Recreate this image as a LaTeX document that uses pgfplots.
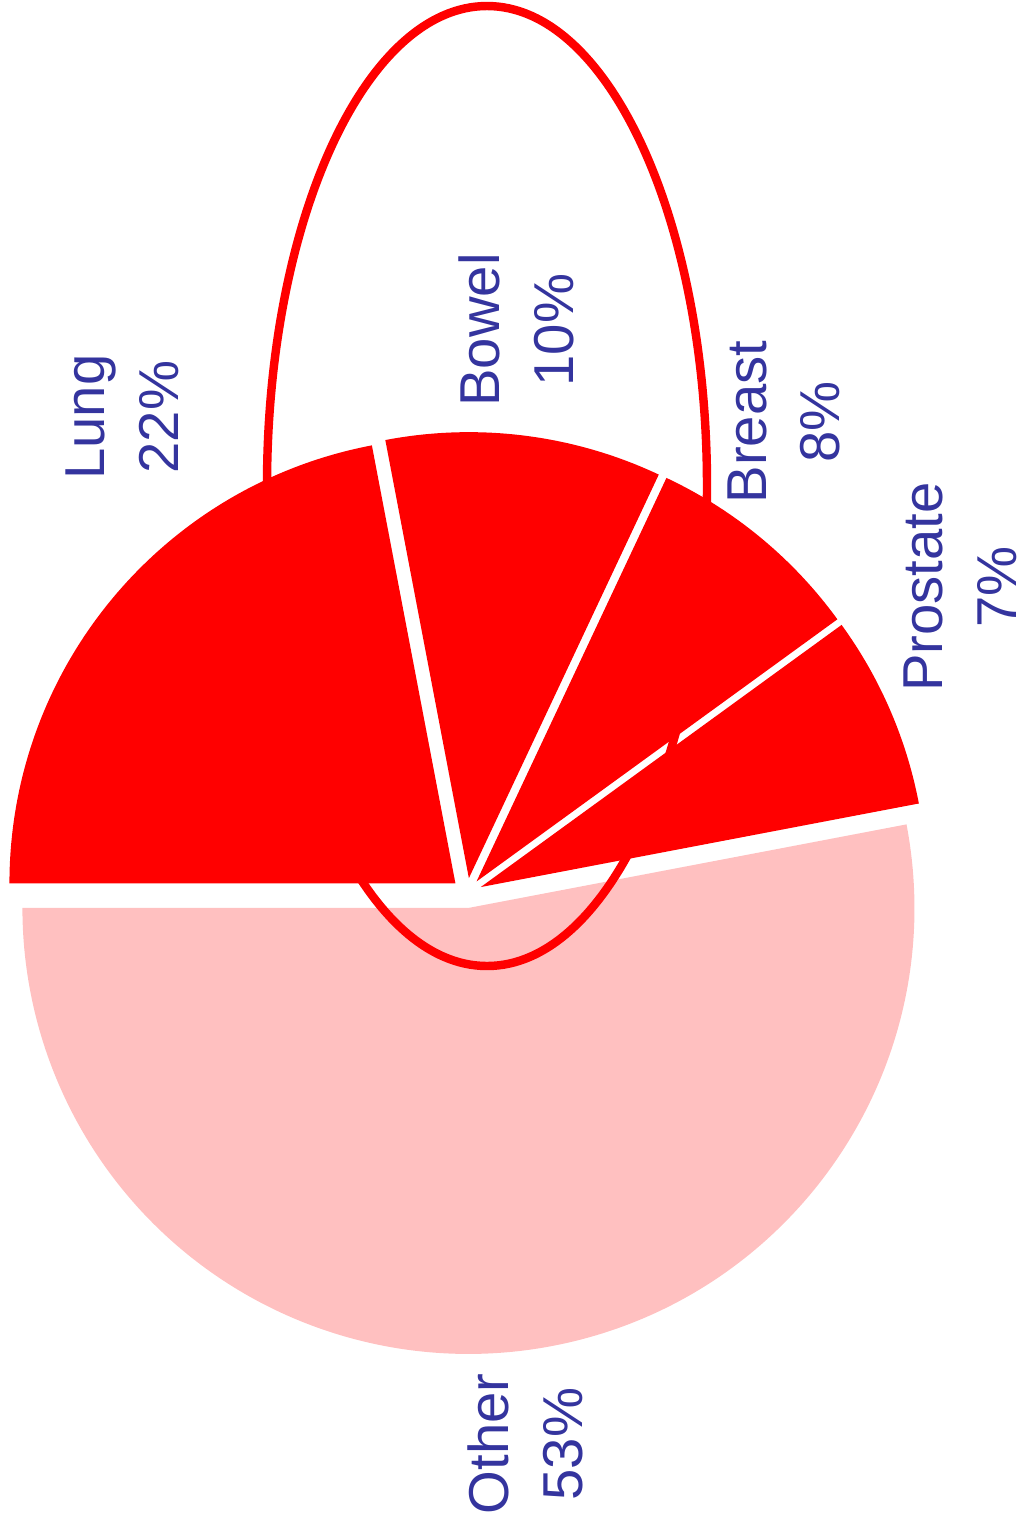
\documentclass[border=0pt]{standalone}
\usepackage{pgfplots}
\pgfplotsset{compat=1.18}
\usepackage{fontspec}
\setmainfont{Liberation Sans}

\definecolor{slicered}{RGB}{255,0,0}
\definecolor{otherpink}{RGB}{255,192,192}
\definecolor{labelblue}{RGB}{52,52,158}

\tikzset{lab/.style={rotate=90, align=center, text=labelblue, inner sep=0pt,
    font=\fontsize{16}{21}\selectfont}}

% share of cases (%)
\def\vLung{22}
\def\vBowel{10}
\def\vBreast{8}
\def\vProstate{7}
\def\vOther{53}

% one exploded wedge: start angle, end angle, colour
\newcommand{\pieslice}[3]{%
  \fill[#3] (axis cs:{467+15*cos((#1+#2)/2)},{893-15*sin((#1+#2)/2)})
    -- ++({#1}:44.6mm) arc[start angle={#1}, end angle={#2}, radius=44.6mm] -- cycle;}

\begin{document}
\begin{tikzpicture}
  \begin{axis}[
    scale only axis,
    width=102.3mm, height=152.6mm,
    xmin=0, xmax=1023,
    ymin=0, ymax=1526,
    y dir=reverse,
    hide axis,
    clip=false,
    ]
    \path (axis cs:0,0) rectangle (axis cs:1023,1526);

    \pieslice{180}{180-3.6*\vLung}{slicered}
    \pieslice{180-3.6*\vLung}{180-3.6*(\vLung+\vBowel)}{slicered}
    \pieslice{180-3.6*(\vLung+\vBowel)}{180-3.6*(\vLung+\vBowel+\vBreast)}{slicered}
    \pieslice{180-3.6*(\vLung+\vBowel+\vBreast)}{180-3.6*(\vLung+\vBowel+\vBreast+\vProstate)}{slicered}
    \pieslice{180-3.6*(\vLung+\vBowel+\vBreast+\vProstate)}{180-3.6*(\vLung+\vBowel+\vBreast+\vProstate+\vOther)}{otherpink}

    \draw[slicered, line width=2.4pt] (axis cs:487,486) ellipse[x radius=22mm, y radius=48mm];

    \node[lab] at (axis cs:122,417) {Lung\\\vLung\%};
    \node[lab] at (axis cs:516,330) {Bowel\\\vBowel\%};
    \node[lab] at (axis cs:784,422) {Breast\\\vBreast\%};
    \node[lab] at (axis cs:960,587) {Prostate\\\vProstate\%};
    \node[lab] at (axis cs:525,1444) {Other\\\vOther\%};
  \end{axis}
\end{tikzpicture}
\end{document}
